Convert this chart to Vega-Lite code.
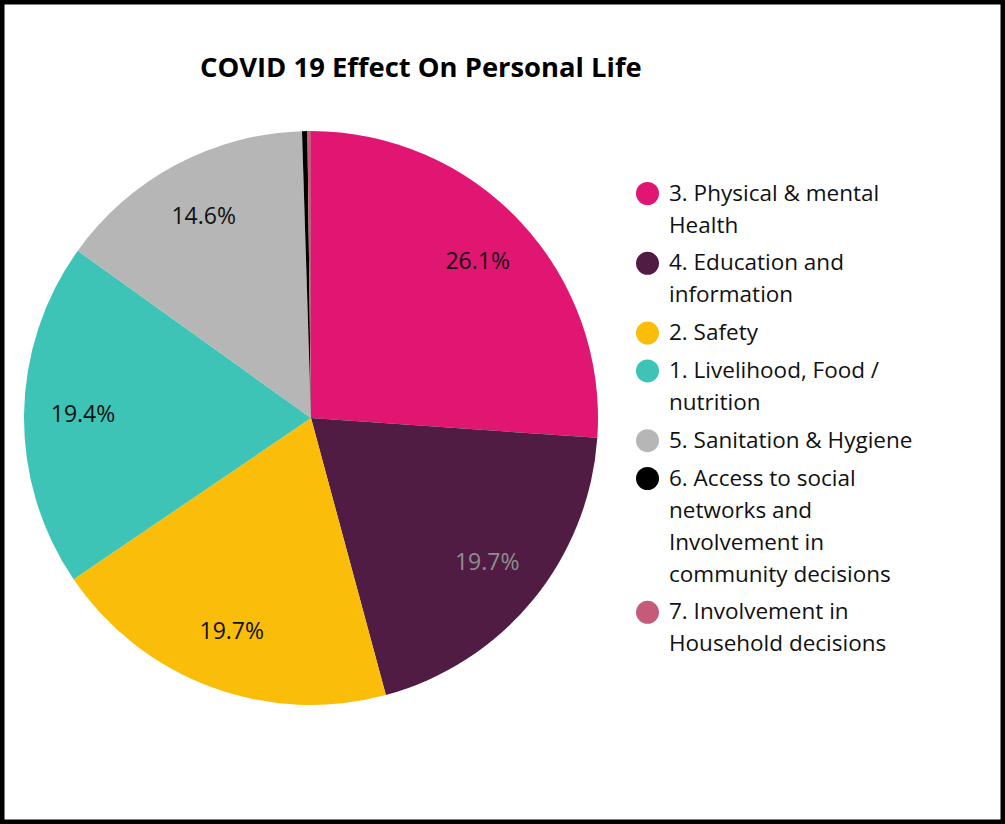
{
  "$schema": "https://vega.github.io/schema/vega-lite/v6.json",
  "width": 1005,
  "height": 824,
  "padding": 0,
  "autosize": {"type": "none"},
  "background": "white",
  "view": {"stroke": "#000000", "strokeWidth": 9, "fill": "white"},
  "title": {
    "text": "COVID 19 Effect On Personal Life",
    "anchor": "start",
    "frame": "group",
    "orient": "top",
    "offset": 0,
    "dx": 200,
    "dy": 104,
    "baseline": "alphabetic",
    "font": "Open Sans",
    "fontSize": 27.4,
    "fontWeight": "bold",
    "color": "#000000"
  },
  "data": {
    "values": [
      {"category": "3. Physical & mental Health", "value": 0.261, "rank": 1},
      {"category": "4. Education and information", "value": 0.197, "rank": 2},
      {"category": "2. Safety", "value": 0.197, "rank": 3},
      {"category": "1. Livelihood, Food / nutrition", "value": 0.194, "rank": 4},
      {"category": "5. Sanitation & Hygiene", "value": 0.146, "rank": 5},
      {"category": "6. Access to social networks and Involvement in community decisions", "value": 0.003, "rank": 6},
      {"category": "7. Involvement in Household decisions", "value": 0.002, "rank": 7}
    ]
  },
  "encoding": {
    "theta": {"field": "value", "type": "quantitative", "stack": true},
    "order": {"field": "rank", "type": "quantitative"}
  },
  "layer": [
    {
      "mark": {"type": "arc", "x": 311, "y": 418, "radius": 287, "strokeWidth": 0},
      "encoding": {
        "color": {
          "field": "category",
          "type": "nominal",
          "scale": {
            "domain": [
              "3. Physical & mental Health",
              "4. Education and information",
              "2. Safety",
              "1. Livelihood, Food / nutrition",
              "5. Sanitation & Hygiene",
              "6. Access to social networks and Involvement in community decisions",
              "7. Involvement in Household decisions"
            ],
            "range": ["#E01672", "#511C43", "#FABE0A", "#3EC3B7", "#B6B6B6", "#000000", "#C55B7A"]
          },
          "legend": {
            "title": null,
            "orient": "none",
            "legendX": 636,
            "legendY": 182,
            "padding": 0,
            "symbolType": "circle",
            "symbolSize": 529,
            "symbolStrokeWidth": 0,
            "symbolOpacity": 1,
            "labelFont": "Open Sans",
            "labelFontSize": 22.5,
            "labelColor": "#111111",
            "labelLimit": 400,
            "labelOffset": 10,
            "labelBaseline": "middle",
            "rowPadding": 14.8,
            "labelExpr": "datum.label == '3. Physical & mental Health' ? ['3. Physical & mental', 'Health'] : datum.label == '4. Education and information' ? ['4. Education and', 'information'] : datum.label == '1. Livelihood, Food / nutrition' ? ['1. Livelihood, Food /', 'nutrition'] : datum.label == '6. Access to social networks and Involvement in community decisions' ? ['6. Access to social', 'networks  and', 'Involvement in', 'community decisions'] : datum.label == '7. Involvement in Household decisions' ? ['7. Involvement in', 'Household decisions'] : datum.label"
          }
        }
      }
    },
    {
      "mark": {"type": "text", "x": 311, "y": 418, "radius": 228, "font": "Open Sans", "fontSize": 23, "align": "center", "baseline": "middle"},
      "encoding": {
        "text": {
          "condition": {"test": "datum.value < 0.01", "value": ""},
          "field": "value",
          "type": "quantitative",
          "format": ".1%"
        },
        "color": {
          "condition": {"test": "datum.rank == 2", "value": "#8E8E8E"},
          "value": "#111111"
        }
      }
    }
  ],
  "config": {
    "view": {"stroke": "#000000", "strokeWidth": 9},
    "style": {"guide-label": {"lineHeight": 32}}
  }
}
